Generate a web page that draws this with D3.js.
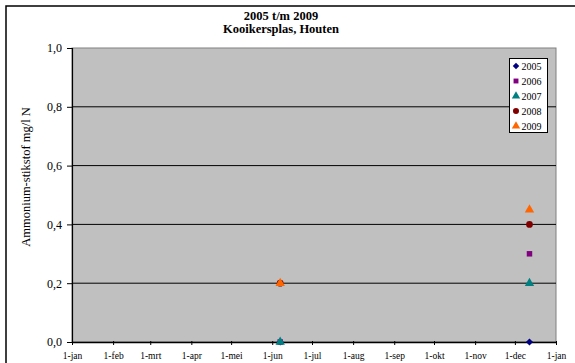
<!doctype html>
<html>
<head>
<style>
    body { margin: 0; background: #fff; }
    svg { display: block; }
    text { font-family: 'Liberation Serif', 'Times New Roman', serif; fill: #000; }
    text.title { font-size: 12.5px; font-weight: bold; }
    text.ytick { font-size: 12px; }
    text.xtick { font-size: 9.5px; }
    text.label { font-size: 12.5px; }
    text.legend { font-size: 10px; }
</style>
<script src="https://d3js.org/d3.v7.min.js"></script>
</head>
<body>
<svg width="575" height="363"></svg>
<script>
// measurement dates (day-month), one row per year
const dates = ['2005-06-07', '2005-12-12'];
const years = ['2005', '2006', '2007', '2008', '2009'];
const v2005 = [0, 0];
const v2006 = [0, 0.3];
const v2007 = [0, 0.2];
const v2008 = [0.2, 0.4];
const v2009 = [0.2, 0.45];
const yTicks = [0, 0.2, 0.4, 0.6, 0.8, 1.0];
const monthNames = ['jan', 'feb', 'mrt', 'apr', 'mei', 'jun', 'jul', 'aug', 'sep', 'okt', 'nov', 'dec'];

const seriesValues = [v2005, v2006, v2007, v2008, v2009];
const colors = ['#000080', '#800080', '#008080', '#800000', '#FF6600'];
const shapes = [d3.symbolSquare, d3.symbolSquare, d3.symbolTriangle, d3.symbolCircle, d3.symbolTriangle];
const rotate = [45, 0, 0, 0, 0];
const sizes = [26, 30, 38, 36, 38];

const svg = d3.select('svg');
const parse = d3.timeParse('%Y-%m-%d');
const serif = "'Liberation Serif', 'Times New Roman', serif";

// outer frame
svg.append('rect')
    .attr('x', 6).attr('y', 6)
    .attr('width', 620).attr('height', 420)
    .attr('fill', '#fff').attr('stroke', '#000').attr('stroke-width', 1.5);

const pLeft = 72, pRight = 556, pTop = 48, pBottom = 342;

const x = d3.scaleTime()
    .domain([new Date(2005, 0, 1), new Date(2006, 0, 1)])
    .range([pLeft, pRight]);
const y = d3.scaleLinear()
    .domain([0, 1])
    .range([pBottom, pTop]);

// plot area
svg.append('rect')
    .attr('x', pLeft).attr('y', pTop)
    .attr('width', pRight - pLeft).attr('height', pBottom - pTop)
    .attr('fill', '#C0C0C0').attr('stroke', '#808080').attr('stroke-width', 1);

// gridlines
svg.append('g')
    .selectAll('line')
    .data(yTicks.filter(t => t > 0 && t < 1))
    .join('line')
    .attr('x1', pLeft).attr('x2', pRight)
    .attr('y1', d => y(d)).attr('y2', d => y(d))
    .attr('stroke', '#000').attr('stroke-width', 1);

// y axis
const yAxis = svg.append('g')
    .attr('transform', `translate(${pLeft},0)`)
    .call(d3.axisLeft(y).tickValues(yTicks).tickSize(5).tickPadding(5)
        .tickFormat(d => d3.format('.1f')(d).replace('.', ',')));
yAxis.select('.domain').attr('stroke', '#000').attr('stroke-width', 1.2);
yAxis.attr('font-family', null).attr('font-size', null);
yAxis.selectAll('text').attr('class', 'ytick').style('font-family', serif);

// x axis
const xAxis = svg.append('g')
    .attr('transform', `translate(0,${pBottom})`)
    .call(d3.axisBottom(x).ticks(d3.timeMonth.every(1)).tickSize(4).tickSizeOuter(0).tickPadding(6)
        .tickFormat(d => '1-' + monthNames[d.getMonth()]));
xAxis.select('.domain').attr('stroke', '#000').attr('stroke-width', 1.5);
xAxis.selectAll('.tick line').attr('transform', 'translate(0,-1)');
xAxis.attr('font-family', null).attr('font-size', null);
xAxis.selectAll('text').attr('class', 'xtick').style('font-family', serif);

// data points
years.forEach((yr, i) => {
    svg.append('g')
        .selectAll('path')
        .data(dates.map((dt, j) => ({ date: parse(dt), value: seriesValues[i][j] })))
        .join('path')
        .attr('transform', d => `translate(${x(d.date)},${y(d.value)}) rotate(${rotate[i]})`)
        .attr('d', d3.symbol().type(shapes[i]).size(sizes[i]))
        .attr('fill', colors[i]);
});

// title
svg.append('text').attr('class', 'title')
    .attr('x', 281).attr('y', 20).attr('text-anchor', 'middle')
    .text('2005 t/m 2009');
svg.append('text').attr('class', 'title')
    .attr('x', 281).attr('y', 32.5).attr('text-anchor', 'middle')
    .text('Kooikersplas, Houten');

// y label
svg.append('text').attr('class', 'label')
    .attr('transform', 'translate(30,177) rotate(-90)')
    .attr('text-anchor', 'middle')
    .text('Ammonium-stikstof mg/l N');

// legend
const legend = svg.append('g');
legend.append('rect')
    .attr('x', 509.5).attr('y', 58.5).attr('width', 38).attr('height', 74)
    .attr('fill', '#fff').attr('stroke', '#000').attr('stroke-width', 1);
years.forEach((yr, i) => {
    const ly = 66 + i * 15;
    legend.append('path')
        .attr('transform', `translate(516,${ly}) rotate(${rotate[i]})`)
        .attr('d', d3.symbol().type(shapes[i]).size(sizes[i] * 0.8))
        .attr('fill', colors[i]);
    legend.append('text').attr('class', 'legend')
        .attr('x', 521.5).attr('y', ly + 3.5)
        .text(yr);
});
</script>
</body>
</html>
